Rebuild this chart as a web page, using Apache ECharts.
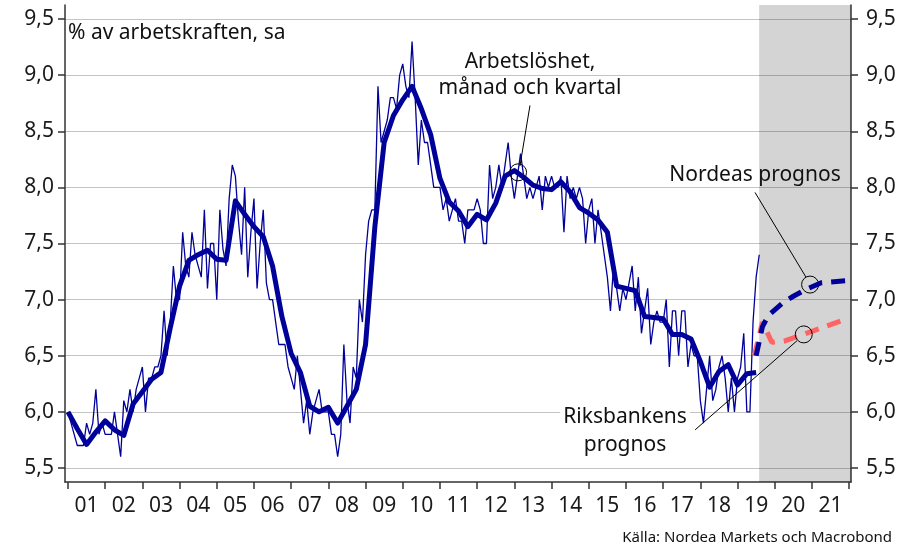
<!DOCTYPE html>
<html>
<head>
<meta charset="utf-8">
<style>
  html, body { margin: 0; padding: 0; background: #fff; }
  #chart { width: 908px; height: 549px; }
</style>
</head>
<body>
<div id="chart"></div>
<script src="https://cdn.jsdelivr.net/npm/echarts@6/dist/echarts.min.js"></script>
<script>
  // Arbetslöshet, % av arbetskraften, säsongsjusterad
  // månadsdata jan 2001 - aug 2019
  const monthStart = 2001;
  const monthly = [
    6.0, 5.9, 5.8, 5.7, 5.7, 5.7, 5.9, 5.8, 5.9, 6.2, 5.8, 5.9,   // 2001
    5.8, 5.8, 5.8, 6.0, 5.8, 5.6, 6.1, 6.0, 6.2, 6.0, 6.2, 6.3,   // 2002
    6.4, 6.0, 6.3, 6.3, 6.4, 6.4, 6.5, 6.9, 6.5, 6.8, 7.3, 7.0,   // 2003
    7.0, 7.6, 7.3, 7.2, 7.6, 7.4, 7.3, 7.2, 7.8, 7.1, 7.5, 7.5,   // 2004
    7.0, 7.8, 7.45, 7.3, 7.9, 8.2, 8.1, 7.7, 7.4, 8.0, 7.2, 7.6,  // 2005
    7.9, 7.1, 7.5, 7.8, 7.15, 7.0, 7.0, 6.8, 6.6, 6.6, 6.6, 6.4,  // 2006
    6.3, 6.2, 6.5, 6.2, 5.9, 6.1, 5.8, 6.0, 6.1, 6.2, 6.0, 6.0,   // 2007
    6.0, 5.8, 5.8, 5.6, 5.8, 6.6, 6.1, 5.9, 6.4, 6.3, 7.0, 6.8,   // 2008
    7.4, 7.7, 7.8, 7.8, 8.9, 8.4, 8.5, 8.6, 8.8, 8.8, 8.7, 9.0,   // 2009
    9.1, 8.9, 8.8, 9.3, 8.8, 8.2, 8.6, 8.4, 8.4, 8.2, 8.0, 8.0,   // 2010
    8.0, 7.8, 7.9, 7.7, 7.8, 7.9, 7.7, 7.7, 7.5, 7.8, 7.8, 7.8,   // 2011
    7.9, 7.8, 7.5, 7.5, 8.2, 7.9, 8.0, 8.2, 8.0, 8.2, 8.4, 8.1,   // 2012
    7.9, 8.1, 8.3, 8.1, 7.9, 8.0, 7.9, 8.0, 8.1, 7.8, 8.1, 8.0,   // 2013
    8.1, 8.0, 8.0, 8.1, 7.6, 8.1, 7.9, 8.0, 7.9, 8.0, 7.9, 7.5,   // 2014
    7.8, 7.9, 7.5, 7.8, 7.6, 7.4, 7.2, 6.9, 7.3, 7.1, 6.9, 7.1,   // 2015
    7.0, 7.15, 7.3, 6.9, 7.2, 6.7, 6.9, 7.1, 6.6, 6.8, 6.9, 6.8,  // 2016
    6.8, 7.0, 6.4, 6.9, 6.9, 6.5, 6.9, 6.9, 6.4, 6.6, 6.5, 6.5,   // 2017
    6.1, 5.9, 6.2, 6.5, 6.1, 6.2, 6.4, 6.5, 6.3, 6.0, 6.3, 6.0,   // 2018
    6.3, 6.4, 6.7, 6.0, 6.0, 6.8, 7.2, 7.4                        // 2019
  ];

  // kvartalsdata Q1 2001 - Q3 2019
  const quarterly = [
    6.00, 5.85, 5.71, 5.82,  5.92, 5.84, 5.79, 6.07,  6.18, 6.29, 6.35, 6.75,
    7.12, 7.35, 7.40, 7.44,  7.36, 7.35, 7.88, 7.76,  7.65, 7.56, 7.30, 6.85,
    6.52, 6.35, 6.05, 6.00,  6.04, 5.90, 6.05, 6.20,  6.60, 7.65, 8.40, 8.64,
    8.78, 8.90, 8.70, 8.47,  8.08, 7.87, 7.79, 7.65,  7.76, 7.71, 7.86, 8.10,
    8.15, 8.09, 8.02, 7.99,  7.98, 8.05, 7.96, 7.82,  7.77, 7.71, 7.60, 7.12,
    7.10, 7.08, 6.85, 6.84,  6.83, 6.69, 6.69, 6.65,  6.45, 6.22, 6.36, 6.42,
    6.24, 6.34, 6.35
  ];

  // prognoser (decimalår, procent)
  const nordeaYears = [2019.5, 2019.67, 2019.83, 2020.25, 2020.5, 2020.83, 2021.25, 2021.95];
  const nordeaValues = [6.5, 6.76, 6.86, 6.98, 7.03, 7.09, 7.15, 7.17];
  const riksbankYears = [2019.45, 2019.67, 2019.92, 2020.25, 2021.95];
  const riksbankValues = [6.5, 6.8, 6.62, 6.63, 6.83];

  const forecastStart = 2019.58;
  const yearTicks = [];
  const yearLabels = [];
  for (let y = 2001; y <= 2022; y++) yearTicks.push(y);
  for (let y = 2001; y <= 2021; y++) yearLabels.push(y + 0.5);
  const yTicks = [5.5, 6.0, 6.5, 7.0, 7.5, 8.0, 8.5, 9.0, 9.5];

  const xMin = 2000.92;
  const xMax = 2022.05;

  const blue = '#00009b';
  const salmon = '#ff6363';
  const font = 'Noto Sans';

  const monthlyData = monthly.map((v, i) => [monthStart + i / 12, v]);
  const quarterlyData = quarterly.map((v, i) => [monthStart + i / 4, v]);
  const nordeaData = nordeaYears.map((x, i) => [x, nordeaValues[i]]);
  const riksbankData = riksbankYears.map((x, i) => [x, riksbankValues[i]]);

  const yAxisBase = {
    type: 'value',
    min: 5.375,
    max: 9.625,
    axisLine: { show: true, lineStyle: { color: '#333', width: 1.5 } },
    axisTick: { show: true, customValues: yTicks, length: 7, lineStyle: { color: '#333', width: 1.5 } },
    axisLabel: {
      customValues: yTicks,
      fontFamily: font,
      fontSize: 21,
      color: '#1a1a1a',
      formatter: v => v.toFixed(1).replace('.', ',')
    }
  };

  const chart = echarts.init(document.getElementById('chart'));

  const leader = { symbol: 'none', silent: true, label: { show: false },
    lineStyle: { color: '#000', width: 1, type: 'solid' }, emphasis: { disabled: true } };
  const ring = { symbol: 'circle', symbolSize: 17, silent: true, label: { show: false },
    itemStyle: { color: 'rgba(0,0,0,0)', borderColor: '#000', borderWidth: 1 } };

  const txt = (x, y, text, extra) => ({
    type: 'text', x: x, y: y, z: 10,
    style: Object.assign({ text: text, font: '21px "Noto Sans"', fill: '#111',
      align: 'center', verticalAlign: 'middle' }, extra || {})
  });

  chart.setOption({
    animation: false,
    grid: { left: 65, right: 57, top: 5, bottom: 67 },
    xAxis: {
      type: 'value',
      min: xMin,
      max: xMax,
      splitLine: { show: false },
      axisLine: { lineStyle: { color: '#333', width: 1.5 } },
      axisTick: { customValues: yearTicks, length: 7, lineStyle: { color: '#333', width: 1.5 } },
      axisLabel: {
        customValues: yearLabels,
        margin: 14,
        fontFamily: font,
        fontSize: 21,
        color: '#1a1a1a',
        formatter: v => String(Math.floor(v) % 100).padStart(2, '0')
      }
    },
    yAxis: [
      Object.assign({}, yAxisBase, {
        position: 'left',
        axisLabel: Object.assign({}, yAxisBase.axisLabel, { margin: 11 }),
        splitLine: { show: true, lineStyle: { color: '#c4c4c4', width: 1.2 } }
      }),
      Object.assign({}, yAxisBase, {
        position: 'right',
        axisLabel: Object.assign({}, yAxisBase.axisLabel, { margin: 15 }),
        splitLine: { show: false }
      })
    ],
    graphic: [
      txt(68, 33, '% av arbetskraften, sa', { align: 'left' }),
      txt(530, 62, 'Arbetslöshet,'),
      txt(530, 88, 'månad och kvartal'),
      txt(755, 175, 'Nordeas prognos'),
      txt(625, 417, 'Riksbankens', { backgroundColor: '#fff', padding: [0, 3] }),
      txt(625, 445, 'prognos'),
      txt(892, 538, 'Källa: Nordea Markets och Macrobond', { font: '15px "Noto Sans"', align: 'right' })
    ],
    series: [
      {
        name: 'Månad',
        type: 'line',
        data: monthlyData,
        showSymbol: false,
        lineStyle: { color: blue, width: 1.3 },
        z: 2,
        markArea: {
          silent: true,
          itemStyle: { color: 'rgba(0,0,0,0.17)' },
          data: [[{ xAxis: forecastStart }, { xAxis: xMax }]]
        }
      },
      {
        name: 'Kvartal',
        type: 'line',
        data: quarterlyData,
        showSymbol: false,
        lineStyle: { color: blue, width: 5, join: 'round' },
        z: 3
      },
      {
        name: 'Riksbankens prognos',
        type: 'line',
        data: riksbankData,
        showSymbol: false,
        lineStyle: { color: salmon, width: 5, type: [14, 9] },
        z: 4
      },
      {
        name: 'Nordeas prognos',
        type: 'line',
        data: nordeaData,
        showSymbol: false,
        lineStyle: { color: blue, width: 5, type: [14, 9] },
        z: 5,
        markLine: Object.assign({}, leader, {
          data: [
            [{ coord: [2013.15, 8.19] }, { coord: [2013.42, 8.73] }],
            [{ coord: [2019.47, 7.955] }, { coord: [2020.84, 7.20] }],
            [{ coord: [2020.60, 6.634] }, { coord: [2017.86, 5.84] }]
          ]
        }),
        markPoint: Object.assign({}, ring, {
          data: [
            { coord: [2013.10, 8.134] },
            { coord: [2020.95, 7.134] },
            { coord: [2020.78, 6.69] }
          ]
        })
      }
    ]
  });
</script>
</body>
</html>
